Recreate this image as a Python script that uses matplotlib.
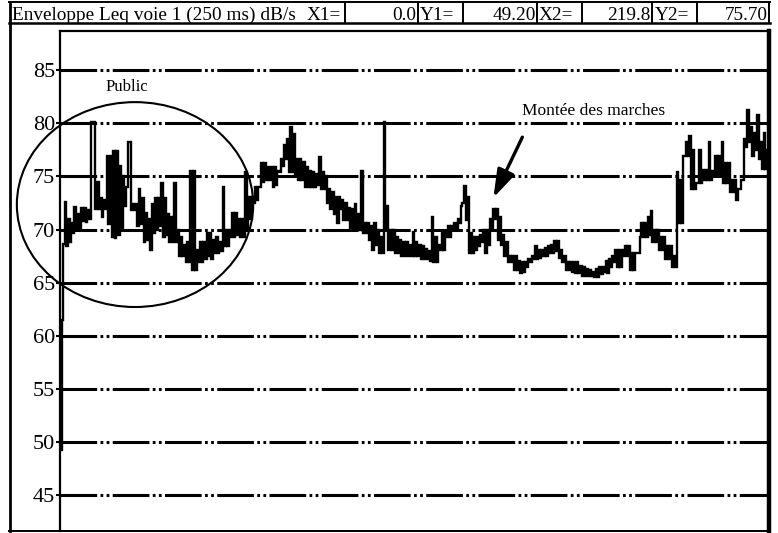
import numpy as np
import matplotlib
matplotlib.use("Agg")
import matplotlib.pyplot as plt
from matplotlib.patches import Ellipse
from matplotlib.lines import Line2D

# ---------------- data: Leq envelope, per second: lower and upper level (dB) -------------
lower = [
    49.2, 68.6, 68.4, 68.8, 69.7, 70.0, 70.0, 70.8, 70.7, 71.0,
    80.1, 71.9, 71.9, 71.2, 71.9, 70.5, 69.3, 69.2, 69.5, 70.0,
    72.2, 78.2, 71.8, 71.8, 70.3, 70.5, 68.8, 69.0, 68.1, 69.7,
    70.0, 70.3, 69.3, 69.5, 68.8, 68.8, 68.8, 67.5, 67.5, 66.9,
    66.9, 66.2, 66.2, 66.9, 66.9, 67.2, 67.5, 67.2, 67.8, 67.8,
    68.0, 68.4, 68.4, 69.3, 69.3, 69.5, 69.3, 69.3, 70.0, 71.0,
    72.5, 72.8, 74.0, 74.5, 74.7, 74.7, 74.0, 74.2, 75.4, 76.0,
    76.6, 75.4, 75.4, 75.0, 74.7, 74.7, 74.0, 74.0, 74.0, 74.0,
    74.2, 73.8, 73.8, 72.5, 71.9, 71.5, 70.6, 71.9, 70.9, 70.9,
    70.0, 70.0, 70.0, 70.0, 69.7, 69.7, 69.0, 68.1, 68.5, 67.8,
    67.8, 70.0, 68.1, 68.1, 67.8, 67.8, 67.5, 67.5, 67.5, 67.5,
    67.5, 67.5, 67.2, 67.2, 67.2, 67.0, 66.9, 66.9, 68.1, 68.1,
    69.3, 69.3, 70.0, 70.0, 70.6, 72.5, 70.9, 67.8, 67.8, 68.1,
    68.4, 68.8, 67.8, 68.5, 70.0, 71.0, 69.0, 68.5, 67.5, 66.9,
    66.9, 66.2, 66.2, 65.9, 66.0, 66.5, 66.9, 67.2, 67.2, 67.3,
    67.5, 67.5, 67.8, 67.8, 68.0, 67.3, 66.9, 66.2, 66.2, 66.0,
    65.9, 65.9, 65.6, 65.6, 65.6, 65.6, 65.5, 65.5, 65.8, 66.0,
    65.9, 66.5, 66.9, 66.5, 66.5, 67.5, 67.5, 66.2, 66.2, 67.8,
    69.3, 69.3, 69.3, 69.5, 68.8, 68.8, 68.1, 68.1, 67.2, 67.2,
    66.5, 66.5, 70.6, 70.6, 76.9, 76.9, 73.8, 73.8, 74.4, 74.4,
    74.7, 74.7, 74.7, 75.0, 75.0, 75.0, 74.4, 74.4, 73.5, 73.5,
    72.8, 73.8, 74.7, 77.8, 78.2, 76.9, 77.5, 76.6, 75.7, 75.7,
]
upper = [
    61.5, 72.6, 71.0, 70.6, 72.1, 71.5, 72.0, 72.0, 71.8, 80.1,
    80.1, 74.5, 73.0, 72.8, 76.9, 76.9, 77.4, 77.4, 76.0, 75.0,
    74.0, 78.2, 72.4, 72.4, 73.8, 73.0, 71.6, 71.0, 72.4, 73.0,
    73.0, 74.4, 73.0, 71.5, 71.2, 74.4, 70.0, 69.3, 68.5, 68.8,
    75.5, 75.5, 68.1, 68.8, 68.8, 69.7, 69.7, 69.0, 69.3, 68.8,
    74.0, 70.0, 70.0, 71.6, 71.6, 71.0, 71.0, 75.4, 73.1, 73.1,
    74.0, 74.0, 76.3, 76.3, 75.9, 75.9, 75.9, 75.5, 76.6, 78.0,
    78.5, 79.7, 79.0, 76.6, 76.6, 76.4, 75.9, 75.5, 75.4, 75.2,
    76.8, 75.4, 75.0, 73.8, 73.5, 73.1, 73.1, 72.8, 72.5, 72.0,
    71.9, 72.4, 71.5, 75.5, 70.6, 70.6, 70.3, 70.6, 70.0, 69.3,
    80.1, 72.2, 70.0, 70.0, 69.3, 69.0, 68.8, 68.8, 68.5, 69.8,
    68.8, 68.5, 68.4, 68.2, 68.0, 71.2, 69.3, 68.5, 69.7, 69.7,
    70.3, 70.3, 70.6, 71.0, 72.2, 74.1, 73.1, 69.7, 69.3, 69.3,
    69.5, 70.0, 70.0, 71.0, 71.9, 71.9, 71.2, 69.5, 68.8, 67.5,
    67.5, 67.5, 67.0, 66.9, 66.9, 67.2, 67.5, 68.4, 68.1, 68.1,
    68.3, 68.4, 68.5, 68.9, 68.9, 68.1, 67.5, 66.9, 66.9, 66.9,
    66.9, 66.6, 66.5, 66.3, 66.2, 66.0, 66.3, 66.5, 66.5, 67.0,
    67.2, 67.5, 68.1, 68.1, 68.1, 68.4, 68.4, 67.8, 67.8, 67.8,
    70.6, 70.6, 71.2, 71.7, 70.0, 70.0, 69.3, 69.3, 68.4, 68.4,
    67.5, 75.4, 74.7, 76.9, 78.2, 78.8, 77.5, 74.4, 77.5, 75.6,
    75.6, 78.2, 75.5, 76.9, 76.9, 78.2, 76.3, 76.3, 74.7, 74.7,
    73.8, 74.7, 78.5, 81.3, 79.7, 79.1, 80.8, 78.2, 79.1, 77.5,
]
step_s = 1.0
x1, y1 = 0.0, 49.20
x2, y2 = 219.8, 75.70
yticks = [45, 50, 55, 60, 65, 70, 75, 80, 85]
header_title = "Enveloppe Leq voie 1 (250 ms) dB/s"
header_cells = [("X1=", "0.0"), ("Y1=", "49.20"), ("X2=", "219.8"), ("Y2=", "75.70")]

# interleave lower/upper readings at half-second steps
times, values = [], []
for i, (lo, hi) in enumerate(zip(lower, upper)):
    times += [i * step_s, i * step_s + step_s / 2]
    values += [lo, hi]
times.append(x2)
values.append(y2)

# ---------------- figure ----------------
W, H = 778, 533
fig = plt.figure(figsize=(W / 100, H / 100), dpi=100)
SERIF = ["Liberation Serif", "DejaVu Serif"]


def fx(x):
    return x / W


def fy(y):
    return 1 - y / H


ax = fig.add_axes([fx(60), fy(531), fx(769) - fx(60), fy(31) - fy(531)])
ax.set_xlim(0, 220.2)
ax.set_ylim(41.6, 88.7)

for yv in yticks:
    ax.axhline(yv, color="black", lw=2.2, linestyle=(0, (12, 1.1, 0.9, 1.1, 0.9, 1.1)),
               zorder=1)

ax.step(times, values, where="post", color="black", lw=1.7, zorder=3,
        solid_joinstyle="miter")

ax.set_yticks(yticks)
ax.set_yticklabels([str(v) for v in yticks], fontfamily=SERIF, fontsize=16)
ax.set_xticks([])
ax.tick_params(axis="y", length=3, width=1.5, pad=0.5, color="black")
for side, lw in (("left", 1.6), ("top", 1.6), ("bottom", 1.4), ("right", 3.2)):
    ax.spines[side].set_linewidth(lw)
    ax.spines[side].set_color("black")

ell = Ellipse((23.3, 72.35), width=73.4, height=19.3, fill=False, lw=1.5,
              edgecolor="black", clip_on=False, zorder=4)
ax.add_patch(ell)
ax.text(20.8, 83.4, "Public", fontfamily=SERIF, fontsize=12, ha="center",
        va="center")
ax.text(165.7, 81.2, "Montée des marches", fontfamily=SERIF, fontsize=12.5,
        ha="center", va="center")
ax.annotate("", xy=(134.6, 73.0), xytext=(143.6, 78.7),
            arrowprops=dict(arrowstyle="-|>,head_length=1.7,head_width=0.55",
                            color="black", lw=2.4, shrinkA=0, shrinkB=0))

# ---------------- header and outer frame ----------------
def hline(xa, xb, y, lw=1.6):
    fig.add_artist(Line2D([fx(xa), fx(xb)], [fy(y), fy(y)], color="black", lw=lw))


def vline(x, ya, yb, lw=1.6):
    fig.add_artist(Line2D([fx(x), fx(x)], [fy(ya), fy(yb)], color="black", lw=lw))


hline(9, 770, 2, 1.4)
hline(9, 770, 22.5, 1.8)
vline(10, 1.5, 531, 2.0)
hline(9, 770, 531, 1.4)
for xv in (345, 418, 463, 537, 582, 652, 697, 769):
    vline(xv, 2, 22.5, 1.4)

HFS = 13.9
fig.text(fx(12), fy(20), header_title, fontfamily=SERIF,
         fontsize=HFS, ha="left", va="baseline")
fig.text(fx(341), fy(20), header_cells[0][0], fontfamily=SERIF,
         fontsize=HFS, ha="right", va="baseline")
fig.text(fx(416), fy(20), header_cells[0][1], fontfamily=SERIF, fontsize=HFS,
         ha="right", va="baseline")
label_x = [420, 539, 655]
value_x = [536, 651, 768]
for i in range(1, 4):
    fig.text(fx(label_x[i - 1]), fy(20), header_cells[i][0], fontfamily=SERIF,
             fontsize=HFS, ha="left", va="baseline")
    fig.text(fx(value_x[i - 1]), fy(20), header_cells[i][1], fontfamily=SERIF,
             fontsize=HFS, ha="right", va="baseline")

fig.savefig("out.png", dpi=100)
